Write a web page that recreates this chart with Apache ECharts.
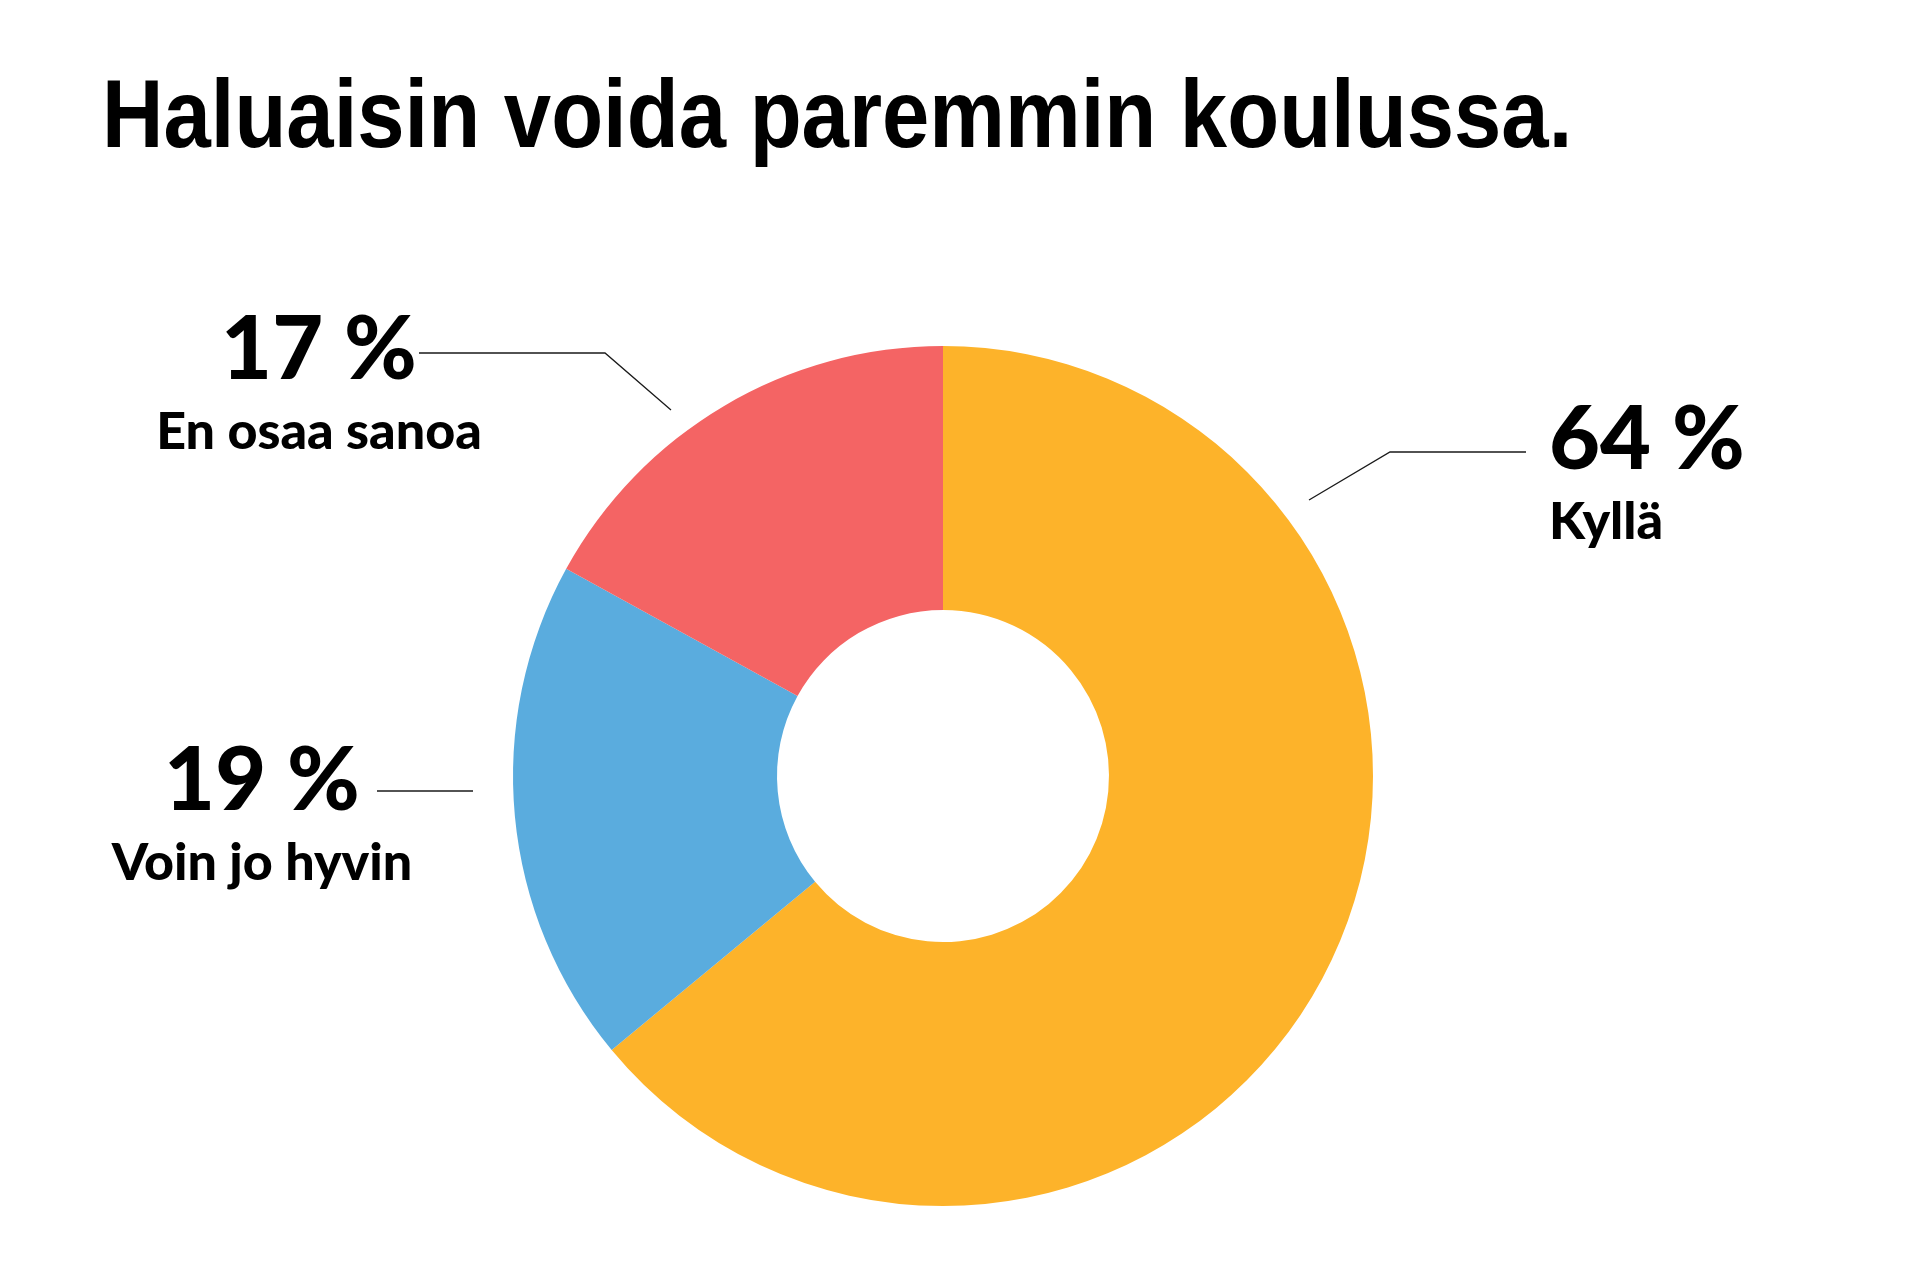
<!DOCTYPE html>
<html>
<head>
<meta charset="utf-8">
<script src="https://cdn.jsdelivr.net/npm/echarts@6/dist/echarts.min.js"></script>
<style>
  html, body { margin: 0; padding: 0; background: #ffffff; }
  #chart { width: 1920px; height: 1280px; }
</style>
</head>
<body>
<div id="chart"></div>
<script>
// ---- data ----
const titleText = 'Haluaisin voida paremmin koulussa.';
const categories = ['Kyllä', 'Voin jo hyvin', 'En osaa sanoa'];
const values = [64, 19, 17];
const colors = ['#FDB32A', '#5AACDE', '#F46464'];

// ---- label placement (layout only) ----
const labelPlacement = [
  { x: 1549, y: 393, align: 'left',   line: [[1309, 500], [1390, 452], [1526, 452]] },
  { x: 262,  y: 734, align: 'center', line: [[473, 791], [473, 791], [377, 791]] },
  { x: 319,  y: 303, align: 'center', line: [[671, 410], [605, 353], [419, 353]] }
];

const chart = echarts.init(document.getElementById('chart'), null, { renderer: 'canvas' });

const labelFont = 'Lato, "Noto Sans", sans-serif';

chart.setOption({
  backgroundColor: '#ffffff',
  animation: false,
  graphic: [{
    type: 'text',
    x: 102,
    y: 72,
    scaleX: 0.877,
    silent: true,
    style: {
      text: titleText,
      font: 'bold 97px "Liberation Sans", Arial, sans-serif',
      fill: '#000000',
      textVerticalAlign: 'top',
      textAlign: 'left'
    }
  }],
  series: [{
    type: 'pie',
    center: [943, 776],
    radius: [166, 430],
    startAngle: 90,
    clockwise: true,
    avoidLabelOverlap: false,
    percentPrecision: 0,
    silent: true,
    itemStyle: { borderWidth: 0 },
    data: categories.map((c, i) => ({ name: c, value: values[i], itemStyle: { color: colors[i] } })),
    label: {
      show: true,
      position: 'outside',
      formatter: '{p|{d} %}\n{n|{b}}',
      rich: {
        p: { fontFamily: labelFont, fontWeight: 900, fontSize: 88, lineHeight: 96, color: '#000000' },
        n: { fontFamily: labelFont, fontWeight: 900, fontSize: 52, lineHeight: 66, color: '#000000' }
      }
    },
    labelLine: {
      show: true,
      smooth: false,
      lineStyle: { color: '#1a1a1a', width: 1.3 }
    },
    labelLayout: function (params) {
      const p = labelPlacement[params.dataIndex];
      return {
        x: p.x,
        y: p.y,
        align: p.align,
        verticalAlign: 'top',
        labelLinePoints: p.line
      };
    }
  }]
});
</script>
</body>
</html>
